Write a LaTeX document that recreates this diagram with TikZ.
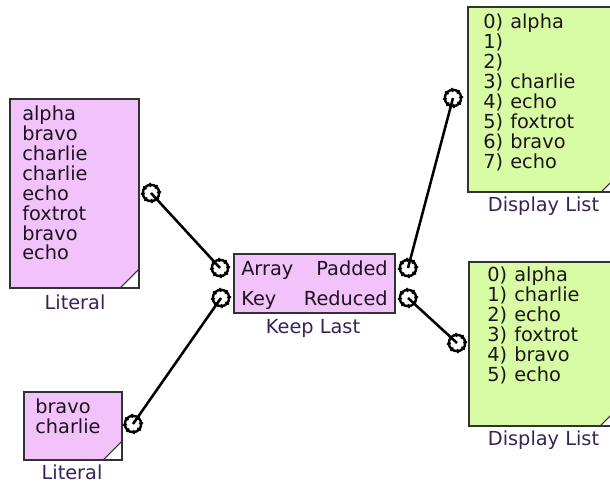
\documentclass[tikz,border=0pt]{standalone}
\usepackage{fontspec}
\setmainfont{DejaVu Sans}
\definecolor{pinkfill}{RGB}{242,194,250}
\definecolor{greenfill}{RGB}{216,252,164}
\definecolor{edgecol}{RGB}{50,50,50}
\definecolor{lblcol}{RGB}{55,35,90}
\definecolor{txtcol}{RGB}{30,20,30}
\begin{document}
\begin{tikzpicture}[x=0.75pt,y=-0.75pt,
  blockbox/.style={draw=edgecol, line width=1.1pt, inner sep=0pt,
    path picture={
      \fill[white] (path picture bounding box.south east) -- ++(-19,0) -- ++(19,-19) -- cycle;
      \draw[edgecol, line width=0.8pt] (path picture bounding box.south east) ++(-19,0) -- ++(19,-19);
    }},
  litbox/.style={blockbox, fill=pinkfill},
  dispbox/.style={blockbox, fill=greenfill},
  fnbox/.style={draw=edgecol, line width=1.1pt, inner sep=0pt, fill=pinkfill},
  item/.style={font=\fontsize{14.5}{15}\selectfont, text=txtcol, inner sep=0pt, anchor=mid west},
  itemr/.style={item, anchor=mid east},
  blocklabel/.style={font=\fontsize{14.5}{15}\selectfont, text=lblcol, inner sep=0pt},
  port/.style={circle, draw=black, line width=1.8pt, minimum size=12.3pt, inner sep=0pt,
    postaction={draw=black, line width=3.2pt, dash pattern=on 1.2pt off 3.6pt}},
  wire/.style={draw=black, line width=1.9pt}
]
\useasboundingbox (0,0) rectangle (610,483);
\clip (0,0) rectangle (610,483);
\fill[white] (0,0) rectangle (610,483);

% blocks
\node[litbox, minimum width=96.75pt, minimum height=141.75pt] (lit1) at (74.5,193.5) {};
\node[litbox, minimum width=73.5pt, minimum height=51pt] (lit2) at (73,426) {};
\node[fnbox, minimum width=120.75pt, minimum height=44.25pt] (keep) at (314.5,283.5) {};
\node[dispbox, minimum width=114pt, minimum height=138.75pt] (disp1) at (544,99.5) {};
\node[dispbox, minimum width=112.5pt, minimum height=123pt] (disp2) at (544,344) {};

% labels
\node[blocklabel] (lit1lbl) at (75,302) {Literal};
\node[blocklabel] (lit2lbl) at (72,472) {Literal};
\node[blocklabel] (keeplbl) at (313,328) {Keep Last};
\node[blocklabel] (disp1lbl) at (543.5,206) {Display List};
\node[blocklabel] (disp2lbl) at (543.5,440) {Display List};

% literal texts
\foreach \t [count=\i] in {alpha,bravo,charlie,charlie,echo,foxtrot,bravo,echo}
  \node[item] (lit1t\i) at (22,{117+19.9*(\i-1)}) {\t};
\foreach \t [count=\i] in {bravo,charlie}
  \node[item] (lit2t\i) at (35,{410+19.9*(\i-1)}) {\t};

% keep last texts
\node[item] (keeparr) at (241,272) {Array};
\node[item] (keepkey) at (241,302) {Key};
\node[itemr] (keeppad) at (388,272) {Padded};
\node[itemr] (keepred) at (388,302) {Reduced};

% display list 1
\foreach \n/\t [count=\i] in {0/alpha,1/,2/,3/charlie,4/echo,5/foxtrot,6/bravo,7/echo}{
  \node[item] (d1i\i) at (483,{25+20*(\i-1)}) {\n)};
  \node[item] (d1t\i) at (510,{25+20*(\i-1)}) {\t};
}
% display list 2
\foreach \n/\t [count=\i] in {0/alpha,1/charlie,2/echo,3/foxtrot,4/bravo,5/echo}{
  \node[item] (d2i\i) at (487,{278+20*(\i-1)}) {\n)};
  \node[item] (d2t\i) at (514,{278+20*(\i-1)}) {\t};
}

% ports
\node[port] (plit1) at (151,193) {};
\node[port] (plit2) at (133,424) {};
\node[port] (parr) at (220,268) {};
\node[port] (pkey) at (221,298) {};
\node[port] (ppad) at (408,268) {};
\node[port] (pred) at (408,298) {};
\node[port] (pd1) at (453,98) {};
\node[port] (pd2) at (457,343) {};

% wires
\draw[wire] (plit1.center) -- (parr.center);
\draw[wire] (plit2.center) -- (pkey.center);
\draw[wire] (ppad.center) -- (pd1.center);
\draw[wire] (pred.center) -- (pd2.center);
\end{tikzpicture}
\end{document}
